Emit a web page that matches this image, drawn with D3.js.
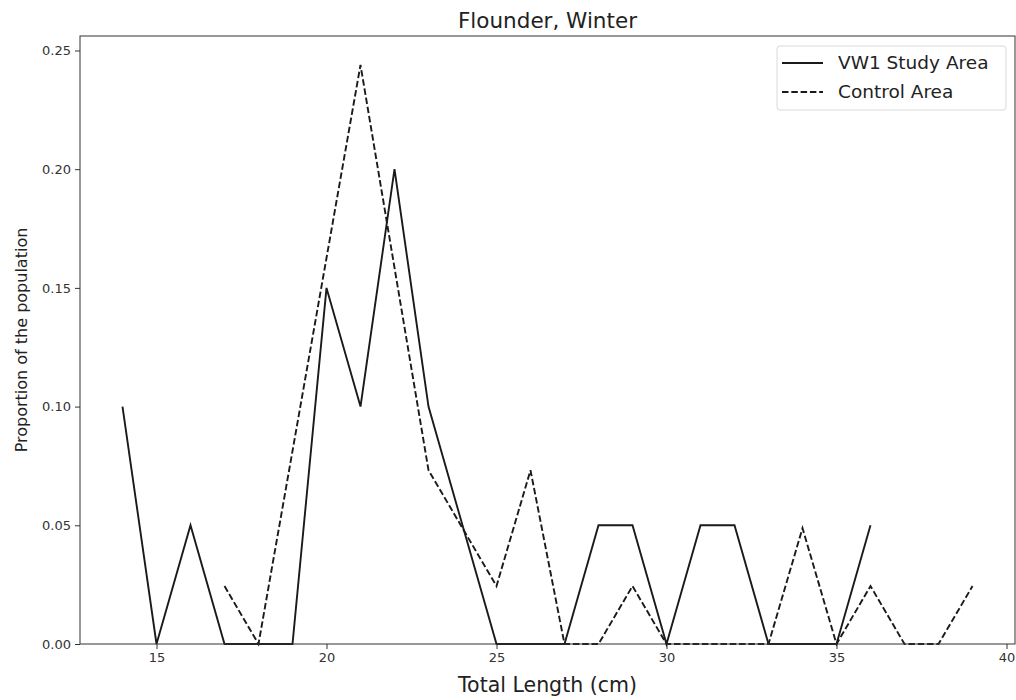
<!DOCTYPE html>
<html>
<head>
<meta charset="utf-8">
<script src="https://cdn.jsdelivr.net/npm/d3@7"></script>
<style>
  html, body { margin: 0; padding: 0; background: #fff; }
  svg { display: block; font-family: "DejaVu Sans", sans-serif; }
</style>
</head>
<body>
<svg id="chart" width="1016" height="700"></svg>
<script>
// Length-frequency proportions of winter flounder by total length (cm)
const studyLengths = [14, 15, 16, 17, 18, 19, 20, 21, 22, 23, 24, 25, 26, 27, 28, 29, 30, 31, 32, 33, 34, 35, 36];
const studyValues  = [0.10, 0, 0.05, 0, 0, 0, 0.15, 0.10, 0.20, 0.10, 0.05, 0, 0, 0, 0.05, 0.05, 0, 0.05, 0.05, 0, 0, 0, 0.05];

const controlLengths = [17, 18, 19, 20, 21, 22, 23, 24, 25, 26, 27, 28, 29, 30, 31, 32, 33, 34, 35, 36, 37, 38, 39];
const controlValues  = [0.0244, 0, 0.0813, 0.1626, 0.2439, 0.1585, 0.0732, 0.0488, 0.0244, 0.0732, 0, 0, 0.0244, 0, 0, 0, 0, 0.0488, 0, 0.0244, 0, 0, 0.0244];

const xTicks = [15, 20, 25, 30, 35, 40];
const yTicks = [0, 0.05, 0.10, 0.15, 0.20, 0.25];

const seriesNames = ["VW1 Study Area", "Control Area"];

const svg = d3.select("#chart");
const margin = { left: 80, right: 1, top: 36, bottom: 56 };
const W = 1016, H = 700;

const x = d3.scaleLinear().domain([12.75, 40.25]).range([margin.left, W - margin.right]);
const y = d3.scaleLinear().domain([0, 0.2561]).range([H - margin.bottom, margin.top]);

const ink = "#1a1a1a";
const lineWidth = 1.9;
const dash = "6.5,2.8";

// axes
const xAxis = d3.axisBottom(x).tickValues(xTicks).tickFormat(d3.format("d")).tickSize(5).tickPadding(4);
const yAxis = d3.axisLeft(y).tickValues(yTicks).tickFormat(d3.format(".2f")).tickSize(5).tickPadding(4);

const gx = svg.append("g").attr("transform", `translate(0,${H - margin.bottom})`).call(xAxis);
const gy = svg.append("g").attr("transform", `translate(${margin.left},0)`).call(yAxis);
[gx, gy].forEach(g => {
  g.select(".domain").remove();
  g.selectAll(".tick line").attr("stroke", "#333").attr("stroke-width", 1);
  g.selectAll(".tick text").attr("fill", "#333").style("font-size", "13px").style("font-family", "DejaVu Sans");
});

// series lines
const line = d3.line().x(d => x(d[0])).y(d => y(d[1]));
const studyData = studyLengths.map((l, i) => [l, studyValues[i]]);
const controlData = controlLengths.map((l, i) => [l, controlValues[i]]);

svg.append("path").datum(studyData)
  .attr("d", line).attr("fill", "none").attr("stroke", ink)
  .attr("stroke-width", lineWidth).attr("stroke-linejoin", "miter");
svg.append("path").datum(controlData)
  .attr("d", line).attr("fill", "none").attr("stroke", ink)
  .attr("stroke-width", lineWidth).attr("stroke-dasharray", dash);

// frame
svg.append("rect")
  .attr("x", margin.left).attr("y", margin.top)
  .attr("width", W - margin.right - margin.left).attr("height", H - margin.bottom - margin.top)
  .attr("fill", "none").attr("stroke", "#333").attr("stroke-width", 1);

// title and axis labels
svg.append("text").attr("x", (margin.left + W - margin.right) / 2).attr("y", 28)
  .attr("text-anchor", "middle").attr("fill", "#222").style("font-size", "21.5px")
  .text("Flounder, Winter");
svg.append("text").attr("x", (margin.left + W - margin.right) / 2).attr("y", 692)
  .attr("text-anchor", "middle").attr("fill", "#222").style("font-size", "20.5px")
  .text("Total Length (cm)");
svg.append("text").attr("transform", `translate(27,${(margin.top + H - margin.bottom) / 2}) rotate(-90)`)
  .attr("text-anchor", "middle").attr("fill", "#222").style("font-size", "16px")
  .text("Proportion of the population");

// legend
const lg = svg.append("g");
lg.append("rect").attr("x", 777).attr("y", 46).attr("width", 229).attr("height", 64)
  .attr("rx", 3).attr("fill", "#fff").attr("fill-opacity", 0.8)
  .attr("stroke", "#d9d9d9").attr("stroke-width", 1);
const rows = [{ name: seriesNames[0], dash: null, cy: 63 }, { name: seriesNames[1], dash: dash, cy: 92 }];
rows.forEach(r => {
  lg.append("line").attr("x1", 782).attr("x2", 823).attr("y1", r.cy).attr("y2", r.cy)
    .attr("stroke", ink).attr("stroke-width", lineWidth).attr("stroke-dasharray", r.dash);
  lg.append("text").attr("x", 838).attr("y", r.cy).attr("dy", "0.35em")
    .attr("fill", "#222").style("font-size", "18.5px").text(r.name);
});
</script>
</body>
</html>
